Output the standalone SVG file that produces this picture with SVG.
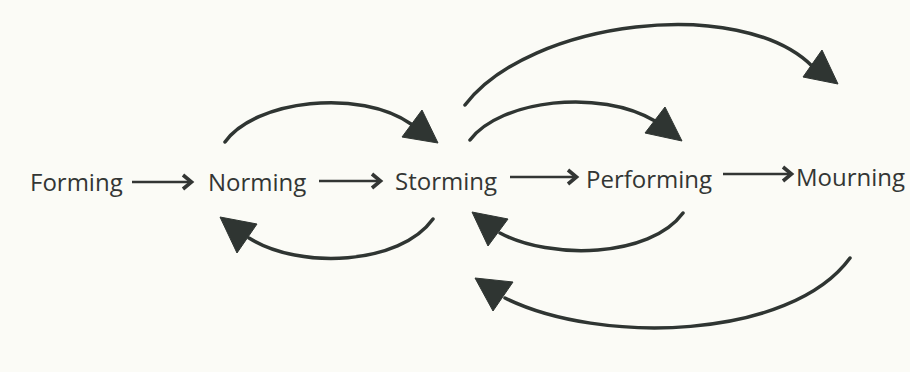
<svg xmlns="http://www.w3.org/2000/svg" width="910" height="372" viewBox="0 0 910 372">
<style>
.lbl{font-family:"Open Sans","Liberation Sans",sans-serif;font-size:24px;fill:#333634}
.arc{fill:none;stroke:#2f3532;stroke-width:3.5;stroke-linecap:round}
.head{fill:#2f3532;stroke:#2f3532;stroke-width:1;stroke-linejoin:round}
.line{fill:none;stroke:#333634;stroke-width:2.4}
.chev{fill:none;stroke:#333634;stroke-width:3.6;stroke-linejoin:miter}
</style>
<rect width="910" height="372" fill="#fbfbf6"/>
<g id="forming"><text class="lbl" x="30" y="191">Forming</text></g>
<g id="norming"><text class="lbl" x="208" y="191">Norming</text></g>
<g id="storming"><text class="lbl" x="395" y="190">Storming</text></g>
<g id="performing"><text class="lbl" x="586" y="188">Performing</text></g>
<g id="mourning"><text class="lbl" x="796" y="186">Mourning</text></g>
<g id="connectors">
  <path class="line" d="M132,182 H190"/><path class="chev" d="M183,175 L191.5,182 L183,189"/>
  <path class="line" d="M319,181 H379"/><path class="chev" d="M372,174 L380.5,181 L372,188"/>
  <path class="line" d="M510,177 H575"/><path class="chev" d="M568,170 L576.5,177 L568,184"/>
  <path class="line" d="M723,174 H790"/><path class="chev" d="M783,167 L791.5,174 L783,181"/>

  <path class="arc" d="M225,142 C255,100 360,88 411,124"/>
  <polygon class="head" points="422,110 402,137 438,143"/>
  <path class="arc" d="M470,140 C500,100 600,88 655,121"/>
  <polygon class="head" points="665,107 645,133 682,141"/>
  <path class="arc" d="M465,105 C530,20 740,-5 812,66"/>
  <polygon class="head" points="822,50 803,77 838,84"/>

  <path class="arc" d="M433,219 C400,265 300,270 249,238"/>
  <polygon class="head" points="220,217 257,224 237,253"/>
  <path class="arc" d="M683,213 C650,258 550,260 500,233"/>
  <polygon class="head" points="472,212 508,219 488,246"/>
  <path class="arc" d="M850,258 C790,340 600,345 505,298"/>
  <polygon class="head" points="475,278 513,282 493,311"/>
</g>
</svg>
